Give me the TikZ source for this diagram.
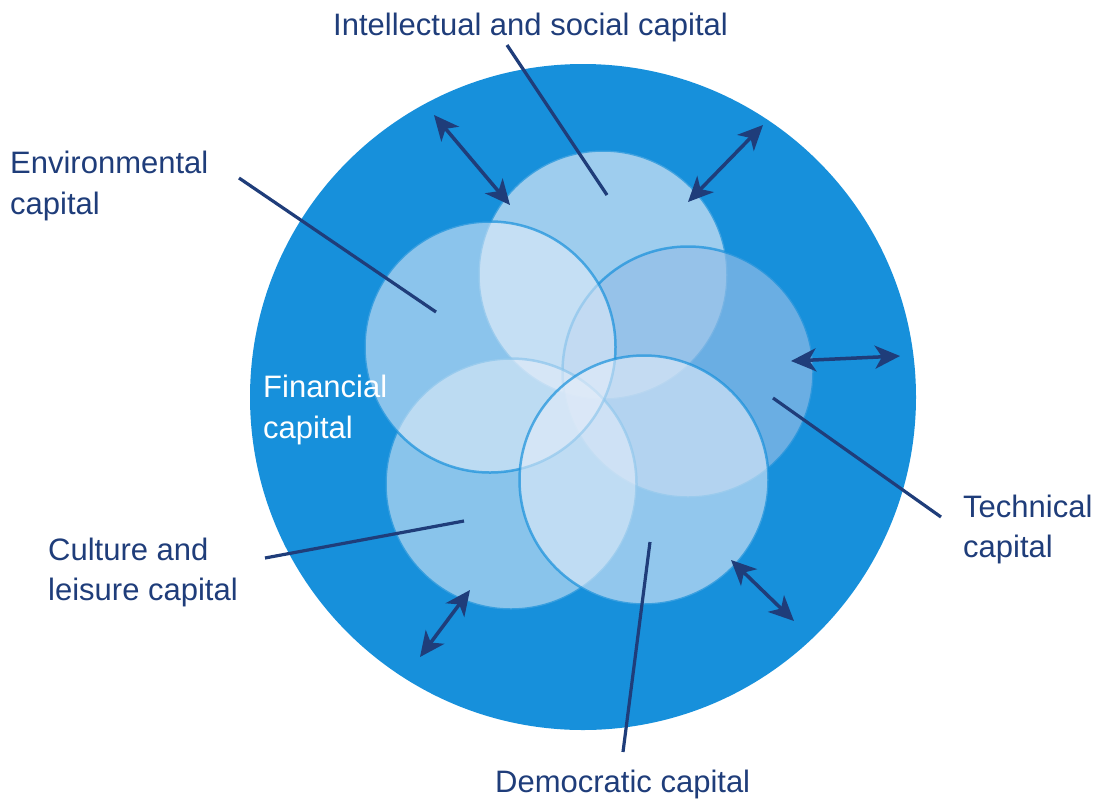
\documentclass[tikz,border=0pt]{standalone}
\usepackage{fontspec}
\setmainfont{Liberation Sans}
\usetikzlibrary{arrows.meta}
\definecolor{bgblue}{RGB}{23,144,219}
\definecolor{navy}{RGB}{31,61,122}
\definecolor{paleblue}{RGB}{228,237,249}
\definecolor{techblue}{RGB}{147,189,231}
\tikzset{
  bubble/.style={fill=paleblue, draw=bgblue, draw opacity=0.7, line width=2.5pt},
  leader/.style={draw=navy, line width=3.2pt},
  headtip/.tip={Stealth[length=25pt,width=23pt,inset=7pt]},
  twoway/.style={draw=navy, line width=3.5pt, headtip-headtip},
  lbl/.style={inner sep=0pt, anchor=base west, text=navy, font=\fontsize{31}{41}\selectfont},
  wlbl/.style={lbl, text=white}
}
\begin{document}
\begin{tikzpicture}[x=1pt,y=-1pt]
\useasboundingbox (0,0) rectangle (1095,807);
% outer circle
\fill[bgblue] (583,397) circle (333);
% inner circles
\path[bubble, fill opacity=0.66] (603,275) circle (124.5);
\path[bubble, fill=techblue, fill opacity=0.67] (688,372) circle (125.5);
\path[bubble, fill opacity=0.56] (511,484) circle (125.5);
\path[bubble, fill opacity=0.57] (490,347) circle (125.5);
\path[bubble, fill opacity=0.6] (644,480) circle (124.5);
% labels
\node[lbl] (int) at (333,35) {Intellectual and social capital};
\node[lbl] (env1) at (10,173) {Environmental};
\node[lbl] (env2) at (10,214) {capital};
\node[wlbl] (fin1) at (263,397) {Financial};
\node[wlbl] (fin2) at (263,438) {capital};
\node[lbl] (cul1) at (48,560) {Culture and};
\node[lbl] (cul2) at (48,600) {leisure capital};
\node[lbl] (tec1) at (963,517) {Technical};
\node[lbl] (tec2) at (963,557) {capital};
\node[lbl] (dem) at (495,792) {Democratic capital};
% leader line ends
\coordinate (intA) at (507,45);  \coordinate (intB) at (607,195);
\coordinate (envA) at (239,178); \coordinate (envB) at (436,312);
\coordinate (tecA) at (941,517); \coordinate (tecB) at (773,398);
\coordinate (culA) at (265,558); \coordinate (culB) at (464,521);
\coordinate (demA) at (623,752); \coordinate (demB) at (650,542);
\draw[leader] (intA) -- (intB);
\draw[leader] (envA) -- (envB);
\draw[leader] (tecA) -- (tecB);
\draw[leader] (culA) -- (culB);
\draw[leader] (demA) -- (demB);
% two-way arrows
\coordinate (a1o) at (434,115); \coordinate (a1i) at (510,205);
\coordinate (a2o) at (763,125); \coordinate (a2i) at (688,202);
\coordinate (a3o) at (900,356); \coordinate (a3i) at (791,361);
\coordinate (a4o) at (794,621); \coordinate (a4i) at (731,560);
\coordinate (a5o) at (420,657); \coordinate (a5i) at (470,590);
\draw[twoway] (a1o) -- (a1i);
\draw[twoway] (a2o) -- (a2i);
\draw[twoway] (a3o) -- (a3i);
\draw[twoway] (a4o) -- (a4i);
\draw[twoway] (a5o) -- (a5i);
\end{tikzpicture}
\end{document}
